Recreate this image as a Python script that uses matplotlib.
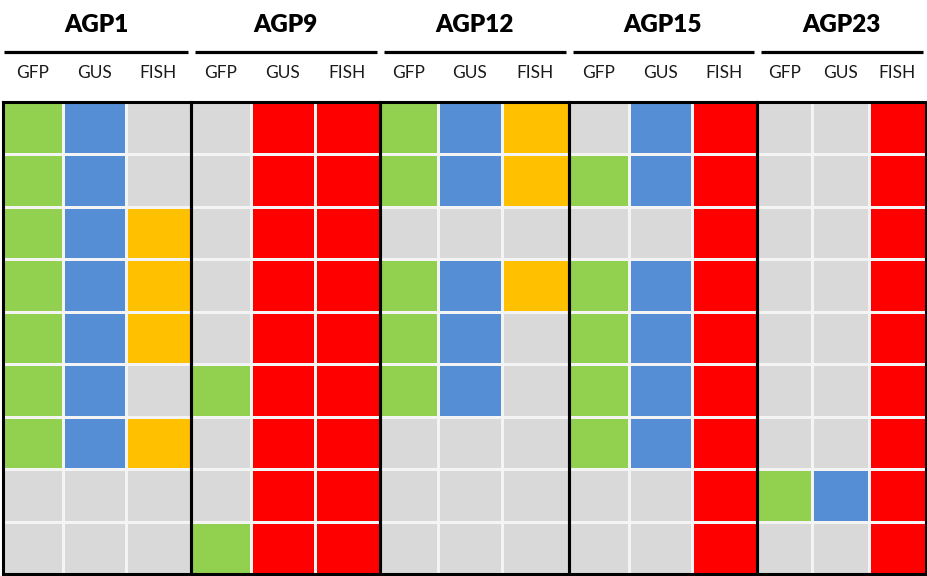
import matplotlib
matplotlib.use("Agg")
import matplotlib.pyplot as plt
import numpy as np
from matplotlib.colors import ListedColormap

plt.rcParams["font.family"] = ["Lato", "DejaVu Sans"]

# ── data ────────────────────────────────────────────────────────────
groups = ["AGP1", "AGP9", "AGP12", "AGP15", "AGP23"]
channels = ["GFP", "GUS", "FISH"]
# 0 = no signal (grey), 1 = GFP (green), 2 = GUS (blue), 3 = FISH (yellow), 4 = red
agp1 = [[1, 2, 0], [1, 2, 0], [1, 2, 3], [1, 2, 3], [1, 2, 3],
        [1, 2, 0], [1, 2, 3], [0, 0, 0], [0, 0, 0]]
agp9 = [[0, 4, 4], [0, 4, 4], [0, 4, 4], [0, 4, 4], [0, 4, 4],
        [1, 4, 4], [0, 4, 4], [0, 4, 4], [1, 4, 4]]
agp12 = [[1, 2, 3], [1, 2, 3], [0, 0, 0], [1, 2, 3], [1, 2, 0],
         [1, 2, 0], [0, 0, 0], [0, 0, 0], [0, 0, 0]]
agp15 = [[0, 2, 4], [1, 2, 4], [0, 0, 4], [1, 2, 4], [1, 2, 4],
         [1, 2, 4], [1, 2, 4], [0, 0, 4], [0, 0, 4]]
agp23 = [[0, 0, 4], [0, 0, 4], [0, 0, 4], [0, 0, 4], [0, 0, 4],
         [0, 0, 4], [0, 0, 4], [1, 2, 4], [0, 0, 4]]
palette = ["#D9D9D9", "#92D050", "#558ED5", "#FFC000", "#FF0000"]

# ── layout (pixels of a 928x576 canvas) ─────────────────────────────
W, H = 928, 576
col_w = [60, 63, 65, 60, 64, 65, 58, 64, 67, 60, 63, 65, 55, 57, 57]
x0, grid_top, grid_bot = 3, 102, 574

grid = np.hstack([np.array(g) for g in [agp1, agp9, agp12, agp15, agp23]])
n_rows = grid.shape[0]
x_edges = x0 + np.concatenate([[0], np.cumsum(col_w)])
y_edges = np.linspace(grid_top, grid_bot, n_rows + 1)

fig = plt.figure(figsize=(W / 100, H / 100), dpi=100)
ax = fig.add_axes([0, 0, 1, 1])
ax.set_xlim(0, W)
ax.set_ylim(H, 0)
ax.axis("off")

cmap = ListedColormap(palette)
ax.pcolormesh(x_edges, y_edges, grid, cmap=cmap, vmin=-0.5, vmax=len(palette) - 0.5,
              edgecolors="#F4F4F4", linewidth=0.9)

# group boxes, header lines and labels
for gi, name in enumerate(groups):
    left = x_edges[gi * 3]
    right = x_edges[gi * 3 + 3]
    ax.plot([left, right, right, left, left],
            [grid_top, grid_top, grid_bot, grid_bot, grid_top],
            color="black", lw=2.2, solid_joinstyle="miter", zorder=5)
    ax.plot([left + 1 if gi == 0 else left + 4, right - 3], [52, 52],
            color="black", lw=2.3, solid_capstyle="butt")
    ax.text((left + right) / 2, 25, name, ha="center", va="center",
            fontsize=17.5, fontweight="heavy", color="black")
    for ci, ch in enumerate(channels):
        k = gi * 3 + ci
        ax.text((x_edges[k] + x_edges[k + 1]) / 2, 73, ch, ha="center", va="center",
                fontsize=12.5, color="#1a1a1a")

fig.savefig("out.png", dpi=100)
